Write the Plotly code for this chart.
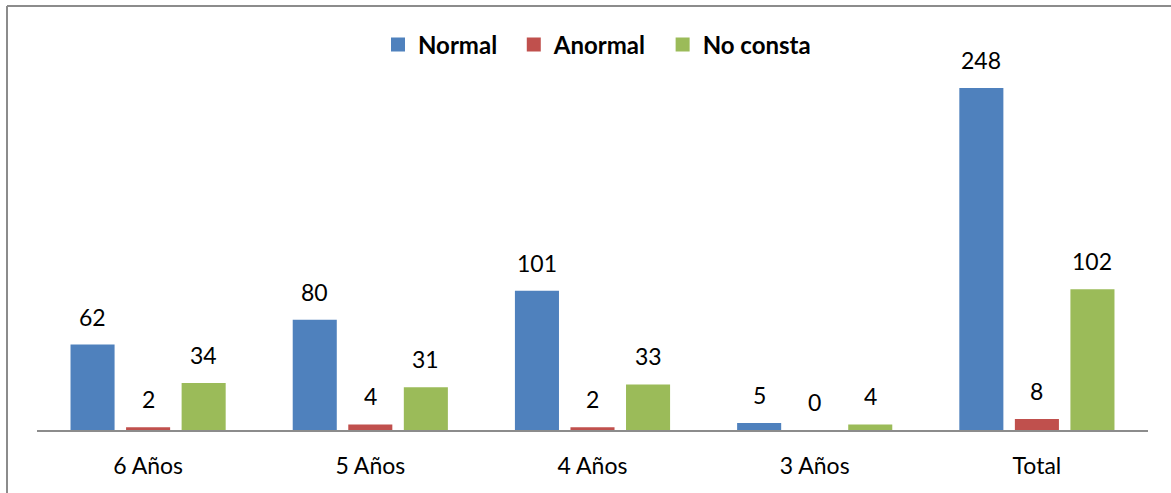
import plotly.graph_objects as go

categories = ["6 Años", "5 Años", "4 Años", "3 Años", "Total"]
normal = [62, 80, 101, 5, 248]
anormal = [2, 4, 2, 0, 8]
no_consta = [34, 31, 33, 4, 102]

series = [
    ("Normal", normal, "#4F81BD"),
    ("Anormal", anormal, "#C0504D"),
    ("No consta", no_consta, "#9BBB59"),
]

W, H = 1171, 493
ML, MR, MT, MB = 37, 23, 20, 63
plot_w = W - ML - MR
plot_h = H - MT - MB
y_max = 297.3
BARGAP = 0.25

fig = go.Figure()
for name, vals, color in series:
    fig.add_trace(go.Bar(
        x=categories, y=vals, name=name, showlegend=False,
        marker=dict(color=color, line=dict(width=0)),
    ))

# legend entries drawn as square markers
for name, vals, color in series:
    fig.add_trace(go.Scatter(
        x=[None], y=[None], mode="markers", name=name + "  ",
        marker=dict(symbol="square", size=14, color=color),
    ))

# value labels above each bar, shifted to the bar's slot within the group
slot_px = plot_w / len(categories) * (1 - BARGAP) / len(series)
for k, (name, vals, color) in enumerate(series):
    shift = (k - 1) * slot_px
    for cat, v in zip(categories, vals):
        fig.add_annotation(
            x=cat, y=v, text=str(v), showarrow=False,
            xshift=shift, yshift=12, yanchor="bottom",
            font=dict(family="Lato", size=23, color="#000000"),
        )

# frame lines along the top and left edges
fig.add_shape(type="line", xref="paper", yref="paper",
              x0=(7 - ML) / plot_w, x1=(W + 5 - ML) / plot_w,
              y0=(H - MB - 6) / plot_h, y1=(H - MB - 6) / plot_h,
              line=dict(color="#8C8C8C", width=2))
fig.add_shape(type="line", xref="paper", yref="paper",
              x0=(7 - ML) / plot_w, x1=(7 - ML) / plot_w,
              y0=(H - MB - 6) / plot_h, y1=-(MB + 5) / plot_h,
              line=dict(color="#8C8C8C", width=2))

fig.update_layout(
    width=W, height=H,
    margin=dict(l=ML, r=MR, t=MT, b=MB),
    paper_bgcolor="white", plot_bgcolor="white",
    barmode="group", bargap=BARGAP, bargroupgap=0.207,
    showlegend=True,
    legend=dict(
        orientation="h", x=(603 - ML) / plot_w, xanchor="center",
        y=(H - MB - 45) / plot_h, yanchor="middle",
        font=dict(family="Lato", size=24, color="#000000", weight="bold"),
        itemwidth=30, tracegroupgap=0, bgcolor="rgba(0,0,0,0)",
    ),
    xaxis=dict(
        showline=True, linecolor="#8C8C8C", linewidth=2,
        ticks="", showgrid=False, zeroline=False,
        ticklabelstandoff=14,
        tickfont=dict(family="Lato", size=23, color="#000000"),
    ),
    yaxis=dict(
        range=[0, y_max], visible=False, showgrid=False, zeroline=False,
    ),
)

fig.write_html("out.html")
